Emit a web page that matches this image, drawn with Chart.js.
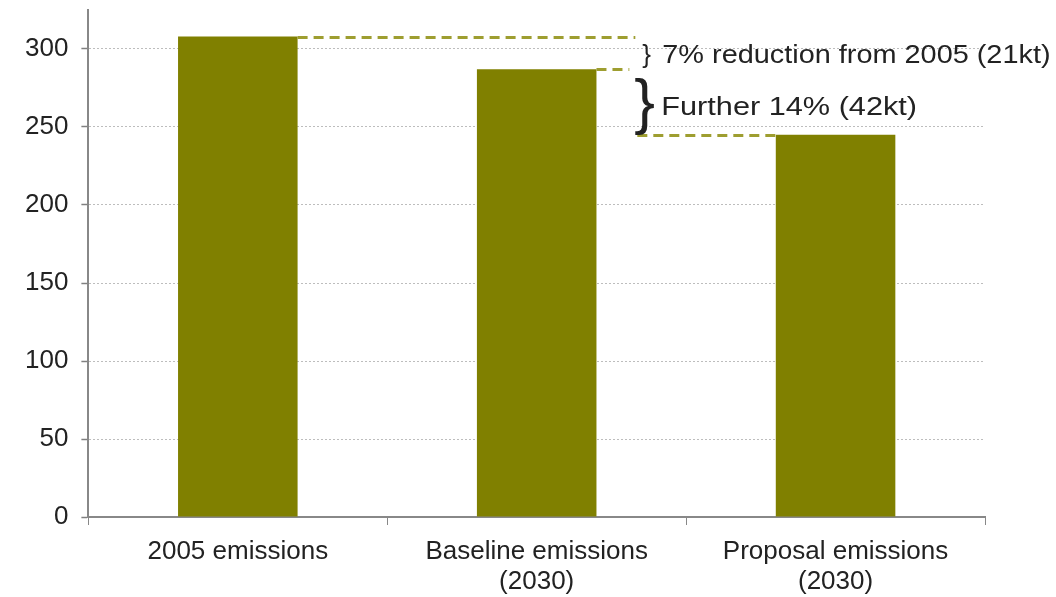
<!DOCTYPE html>
<html>
<head>
<meta charset="utf-8">
<script src="https://cdn.jsdelivr.net/npm/chart.js@4"></script>
<style>
  html, body { margin: 0; padding: 0; background: #fff; }
  #wrap { width: 1056px; height: 597px; }
</style>
</head>
<body>
<div id="wrap"><canvas id="grafico"></canvas></div>
<script>
const categorias = [['2005 emissions'], ['Baseline emissions', '(2030)'], ['Proposal emissions', '(2030)']];
const emisiones = [308, 287, 245];
const marcasY = [0, 50, 100, 150, 200, 250, 300];

const fuente = 'Arial, "Liberation Sans", sans-serif';

// texto un poco estirado a lo ancho, como en la imagen original
function texto(ctx, t, x, y, px, estira) {
  ctx.save();
  ctx.translate(x, y);
  ctx.scale(estira, 1);
  ctx.font = px + 'px ' + fuente;
  ctx.fillText(t, 0, 0);
  ctx.restore();
}

// lineas punteadas y llaves con los textos de reduccion
const anotaciones = {
  id: 'anotaciones',
  afterDatasetsDraw(chart) {
    const ctx = chart.ctx;
    const x = chart.scales.x;
    const y = chart.scales.y;
    const meta = chart.getDatasetMeta(0);
    const b0 = meta.data[0], b1 = meta.data[1], b2 = meta.data[2];
    const y0 = Math.round(y.getPixelForValue(emisiones[0])) + 0.5;
    const y1 = Math.round(y.getPixelForValue(emisiones[1])) + 0.5;
    const y2 = Math.round(y.getPixelForValue(emisiones[2])) + 0.5;
    const xLlave = x.getPixelForValue(1.33);

    ctx.save();
    ctx.strokeStyle = '#9e9e30';
    ctx.lineWidth = 3;
    ctx.setLineDash([10, 6]);
    ctx.beginPath();
    ctx.moveTo(b0.x + b0.width / 2, y0); ctx.lineTo(xLlave, y0);
    ctx.moveTo(b1.x + b1.width / 2, y1); ctx.lineTo(xLlave - 6, y1);
    ctx.moveTo(xLlave + 2, y2); ctx.lineTo(b2.x - b2.width / 2, y2);
    ctx.stroke();
    ctx.setLineDash([]);

    ctx.fillStyle = '#222';
    ctx.textBaseline = 'middle';
    ctx.textAlign = 'left';
    const m1 = (y0 + y1) / 2 + 2;
    texto(ctx, '}', xLlave + 7, m1, 26, 1);
    texto(ctx, '7% reduction from 2005 (21kt)', xLlave + 27, m1, 26, 1.11);

    const m2 = (y1 + y2) / 2;
    texto(ctx, '}', xLlave - 1, m2 + 2, 62, 1);
    texto(ctx, 'Further 14% (42kt)', xLlave + 26, m2 + 5, 26, 1.18);
    ctx.restore();
  }
};

new Chart(document.getElementById('grafico'), {
  type: 'bar',
  data: {
    labels: categorias,
    datasets: [{
      label: 'Emissions',
      data: emisiones,
      backgroundColor: '#808000',
      barPercentage: 0.4,
      categoryPercentage: 1.0
    }]
  },
  options: {
    responsive: true,
    maintainAspectRatio: false,
    animation: false,
    layout: { padding: { left: 12, right: 71, top: 10, bottom: 2 } },
    plugins: {
      legend: { display: false },
      tooltip: { enabled: false }
    },
    scales: {
      x: {
        afterFit(eje) {
          eje.height = 78;
        },
        grid: {
          display: true,
          offset: true,
          drawOnChartArea: false,
          color: '#888',
          tickLength: 8
        },
        border: { color: '#888', width: 2 },
        ticks: { color: '#222', font: { family: fuente, size: 26, lineHeight: 1.15 }, padding: 12 }
      },
      y: {
        min: 0,
        max: 325,
        afterBuildTicks(eje) {
          eje.ticks = marcasY.map(v => ({ value: v }));
        },
        afterFit(eje) {
          eje.paddingTop = 0;
          eje.paddingBottom = 0;
        },
        grid: {
          color: '#bdbdbd',
          tickColor: '#808080',
          tickLength: 7,
          tickWidth: 1.5
        },
        border: { color: '#888', width: 2, dash: [2, 2] },
        ticks: { color: '#222', font: { family: fuente, size: 26 }, padding: 13 }
      }
    }
  },
  plugins: [anotaciones]
});
</script>
</body>
</html>
